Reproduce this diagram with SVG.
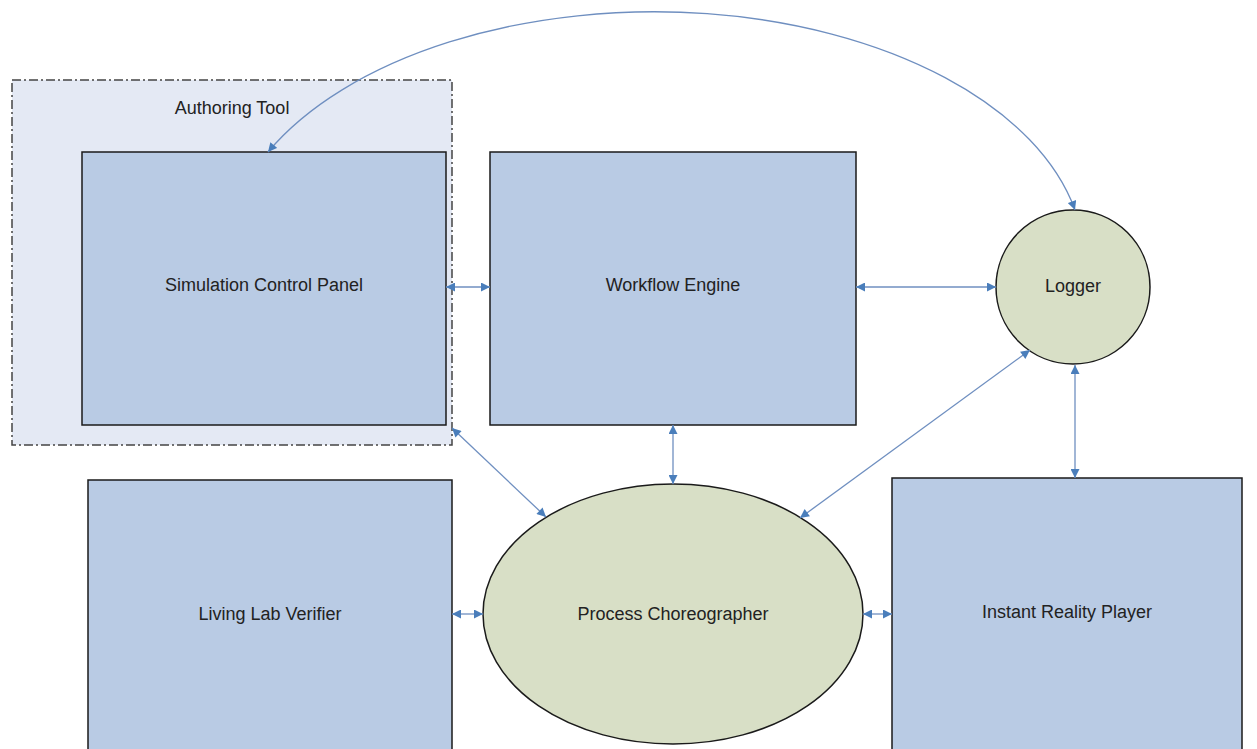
<svg xmlns="http://www.w3.org/2000/svg" width="1257" height="749" viewBox="0 0 1257 749">
<style>
.box{fill:#b9cbe4;stroke:#1a1a1a;stroke-width:1.5}
.oval{fill:#d8dfc6;stroke:#1a1a1a;stroke-width:1.5}
.lbl{font-family:"Liberation Sans",Arial,sans-serif;font-size:18px;fill:#222;text-anchor:middle;dominant-baseline:central}
.conn{fill:none;stroke:#6f8fc0;stroke-width:1.3;marker-start:url(#ah);marker-end:url(#ah)}
</style>
<defs>
<marker id="ah" viewBox="0 0 10 10" refX="10" refY="5" markerWidth="10" markerHeight="9" markerUnits="userSpaceOnUse" orient="auto-start-reverse">
<path d="M0,0 L10,5 L0,10 Z" fill="#4a7ebb"/>
</marker>
</defs>
<rect width="1257" height="749" fill="#fff"/>
<g id="authoring-tool">
<rect x="12" y="80" width="440" height="365" fill="#e4e9f4" stroke="#444" stroke-width="1.5" stroke-dasharray="9 3 2 3"/>
<text class="lbl" x="232" y="108">Authoring Tool</text>
</g>
<g id="simulation-control-panel">
<rect class="box" x="82" y="152" width="364" height="273"/>
<text class="lbl" x="264" y="285">Simulation Control Panel</text>
</g>
<g id="workflow-engine">
<rect class="box" x="490" y="152" width="366" height="273"/>
<text class="lbl" x="673" y="285">Workflow Engine</text>
</g>
<g id="logger">
<circle class="oval" cx="1073" cy="287" r="77"/>
<text class="lbl" x="1073" y="286">Logger</text>
</g>
<g id="living-lab-verifier">
<rect class="box" x="88" y="480" width="364" height="280"/>
<text class="lbl" x="270" y="614">Living Lab Verifier</text>
</g>
<g id="process-choreographer">
<ellipse class="oval" cx="673" cy="614" rx="190" ry="130"/>
<text class="lbl" x="673" y="614">Process Choreographer</text>
</g>
<g id="instant-reality-player">
<rect class="box" x="892" y="478" width="350" height="282"/>
<text class="lbl" x="1067" y="612">Instant Reality Player</text>
</g>
<g id="connectors">
<path class="conn" d="M446,287 L490,287"/>
<path class="conn" d="M856,287 L996,287"/>
<path class="conn" d="M452,428 L546,517"/>
<path class="conn" d="M673,425 L673,484"/>
<path class="conn" d="M1030,350 L800,518"/>
<path class="conn" d="M1075,365 L1075,478"/>
<path class="conn" d="M452,614 L483,614"/>
<path class="conn" d="M863,614 L892,614"/>
<path class="conn" d="M268,152 A430,250 0 0 1 1075,210"/>
</g>
</svg>
